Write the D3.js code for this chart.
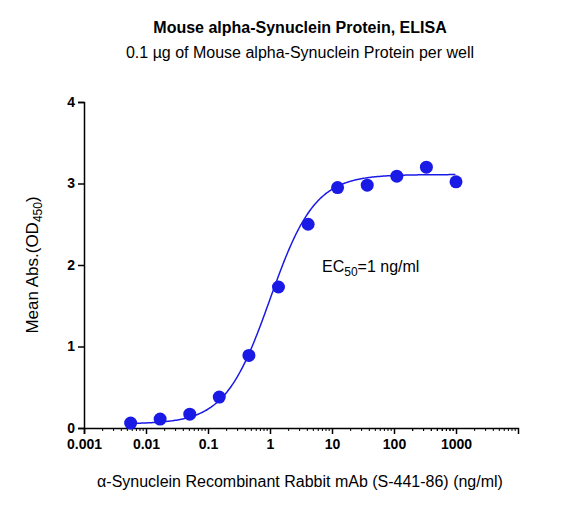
<!DOCTYPE html>
<html><head><meta charset="utf-8">
<script src="https://cdn.jsdelivr.net/npm/d3@7"></script>
<style>body{margin:0;background:#fff}svg{font-family:Arial,"Liberation Sans",sans-serif}</style>
</head><body><div id="chart"></div>
<script>
// concentrations (ng/ml) and mean absorbance
const concentrations = [0.00565, 0.0169, 0.0508, 0.152, 0.457, 1.37, 4.12, 12.3, 37, 111, 333, 1000];
const meanAbs = [0.06, 0.11, 0.17, 0.38, 0.89, 1.73, 2.5, 2.95, 2.98, 3.09, 3.2, 3.02];
// 4PL fit parameters estimated from the drawn curve
const fitBottom = 0.05, fitTop = 3.11, fitEC50 = 1.0, fitHill = 1.2;
const xTicks = [0.001, 0.01, 0.1, 1, 10, 100, 1000];
const yTicks = [0, 1, 2, 3, 4];
const blue = '#1a1ae6';

const svg = d3.select('#chart').append('svg').attr('width', 573).attr('height', 507);
const x = d3.scaleLog().domain([0.001, 10000]).range([84, 518]);
const y = d3.scaleLinear().domain([0, 4]).range([428, 102]);

svg.append('g').attr('transform', 'translate(0,428)')
  .call(d3.axisBottom(x).tickValues(xTicks).tickFormat(d => d3.format('')(d)).tickSize(6))
  .call(g => g.selectAll('text').style('font-size', '14px').style('font-weight', 'bold').attr('dy', '0.85em'));
svg.append('g').attr('transform', 'translate(84,0)')
  .call(d3.axisLeft(y).tickValues(yTicks).tickFormat(d3.format('d')).tickSize(6))
  .call(g => g.selectAll('text').style('font-size', '14px').style('font-weight', 'bold'));
svg.selectAll('.domain,.tick line').attr('stroke', '#000').attr('stroke-width', 1.5);

// minor log ticks
const minors = [];
xTicks.concat([1000]).slice(1).forEach(d => { for (let k = 2; k < 10; k++) minors.push(d / 10 * k); });
for (let k = 2; k < 10; k++) minors.push(1000 * k);
svg.selectAll('.minor').data(minors).join('line')
  .attr('x1', d => x(d)).attr('x2', d => x(d)).attr('y1', 428).attr('y2', 431)
  .attr('stroke', '#000').attr('stroke-width', 1);

const fx = d3.range(-2.25, 3.01, 0.02).map(l => Math.pow(10, l));
const fit = c => fitBottom + (fitTop - fitBottom) / (1 + Math.pow(fitEC50 / c, fitHill));
svg.append('path').datum(fx)
  .attr('d', d3.line().x(d => x(d)).y(d => y(fit(d))))
  .attr('fill', 'none').attr('stroke', blue).attr('stroke-width', 1.5);

svg.selectAll('.pt').data(concentrations).join('circle')
  .attr('cx', d => x(d)).attr('cy', (d, i) => y(meanAbs[i])).attr('r', 6.5).attr('fill', blue);

svg.append('text').attr('x', 300).attr('y', 33).attr('text-anchor', 'middle')
  .style('font-size', '16px').style('font-weight', 'bold').text('Mouse alpha-Synuclein Protein, ELISA');
svg.append('text').attr('x', 300).attr('y', 58).attr('text-anchor', 'middle')
  .style('font-size', '16px').text('0.1 µg of Mouse alpha-Synuclein Protein per well');
svg.append('text').attr('x', 300).attr('y', 487).attr('text-anchor', 'middle')
  .style('font-size', '16px').text('α-Synuclein Recombinant Rabbit mAb (S-441-86) (ng/ml)');
const yl = svg.append('text').attr('transform', 'translate(38,265) rotate(-90)').attr('text-anchor', 'middle')
  .style('font-size', '17px');
yl.append('tspan').text('Mean Abs.(OD');
yl.append('tspan').attr('dy', 4).style('font-size', '12px').text('450');
yl.append('tspan').attr('dy', -4).text(')');
const ec = svg.append('text').attr('x', 322).attr('y', 272).style('font-size', '16px');
ec.append('tspan').text('EC');
ec.append('tspan').attr('dy', 4).style('font-size', '12px').text('50');
ec.append('tspan').attr('dy', -4).text('=1 ng/ml');
</script></body></html>
